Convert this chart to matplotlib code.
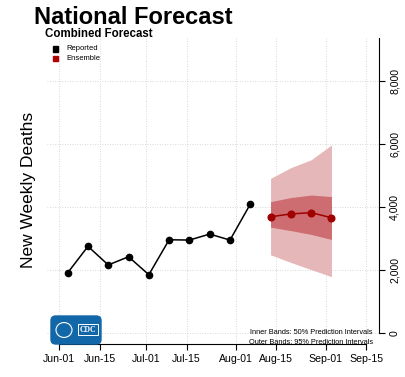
import numpy as np
import matplotlib
matplotlib.use('Agg')
import matplotlib.pyplot as plt
import matplotlib.dates as mdates
from matplotlib.patches import FancyBboxPatch, Rectangle, Circle
from datetime import datetime, timedelta

plt.rcParams['font.family'] = ['Liberation Sans', 'DejaVu Sans']

#reported weekly deaths
reported_dates = ['2022-06-04', '2022-06-11', '2022-06-18', '2022-06-25', '2022-07-02',
                  '2022-07-09', '2022-07-16', '2022-07-23', '2022-07-30', '2022-08-06']
reported = [1910, 2750, 2160, 2420, 1850, 2960, 2950, 3140, 2950, 4090]

#ensemble forecast and prediction intervals
forecast_dates = ['2022-08-13', '2022-08-20', '2022-08-27', '2022-09-03']
ensemble = [3690, 3780, 3820, 3660]
inner_lo = [3360, 3250, 3130, 2970]
inner_hi = [4170, 4300, 4380, 4330]
outer_lo = [2480, 2240, 2010, 1790]
outer_hi = [4910, 5250, 5500, 5970]

tick_dates = ['2022-06-01', '2022-06-15', '2022-07-01', '2022-07-15',
              '2022-08-01', '2022-08-15', '2022-09-01', '2022-09-15']
y_ticks = [0, 2000, 4000, 6000, 8000]

to_dt = lambda lst: [datetime.strptime(d, '%Y-%m-%d') for d in lst]
rd = to_dt(reported_dates)
fd = to_dt(forecast_dates)
td = to_dt(tick_dates)

fig = plt.figure(figsize=(4.05, 3.77), dpi=100)
ax = fig.add_axes([0.1153, 0.0867, 0.8193, 0.812])

pad = timedelta(days=4.24)
ax.set_xlim(td[0] - pad, td[-1] + pad)
ax.set_ylim(-360, 9360)

#grid
for d in td:
    ax.axvline(d, color='#cccccc', lw=0.6, ls=(0, (1, 2)), zorder=0)
for y in y_ticks:
    ax.axhline(y, color='#cccccc', lw=0.6, ls=(0, (1, 2)), zorder=0)

#bands
ax.fill_between(fd, outer_lo, outer_hi, color='#e6b7b8', lw=0, zorder=1)
ax.fill_between(fd, inner_lo, inner_hi, color='#cd6c71', lw=0, zorder=2)

ax.plot(rd, reported, color='black', lw=1.1, marker='o', ms=4.5, zorder=3)
ax.plot(fd, ensemble, color='#a00000', lw=1.1, marker='o', ms=4.8, zorder=3)

#axes styling
ax.spines['top'].set_visible(False)
ax.spines['left'].set_visible(False)
ax.spines['bottom'].set_bounds(mdates.date2num(td[0]), mdates.date2num(td[-1]))
ax.spines['right'].set_bounds(0, 9360)
ax.spines['bottom'].set_position(('data', -360))
ax.yaxis.tick_right()
ax.set_xticks(td)
ax.set_xticklabels([d.strftime('%b-%d') for d in td], fontsize=7.6)
ax.set_yticks(y_ticks)
ax.set_yticklabels([f'{y:,}' for y in y_ticks], fontsize=7.6, rotation=90, va='center')
ax.tick_params(axis='both', length=4, width=0.8, direction='out', pad=3)
ax.tick_params(axis='y', pad=4)

#titles and legend
fig.text(34 / 405, 1 - 18 / 377, 'National Forecast', fontsize=17, fontweight='bold', va='center')
fig.text(45 / 405, 1 - 34 / 377, 'Combined Forecast', fontsize=8.3, fontweight='bold', va='center')
fig.patches.append(Rectangle((53 / 405, 1 - 51.5 / 377), 5 / 405, 5 / 377,
                             transform=fig.transFigure, color='black'))
fig.patches.append(Rectangle((53 / 405, 1 - 61 / 377), 5 / 405, 5 / 377,
                             transform=fig.transFigure, color='#b00000'))
fig.text(66 / 405, 1 - 49 / 377, 'Reported', fontsize=5.5, va='center')
fig.text(66 / 405, 1 - 58.5 / 377, 'Ensemble', fontsize=5.5, va='center')

fig.text(29 / 405, 1 - 190 / 377, 'New Weekly Deaths', fontsize=12.5, rotation=90,
         va='center', ha='center')

fig.text(373 / 405, 1 - 332.5 / 377, 'Inner Bands: 50% Prediction Intervals',
         fontsize=5.3, ha='right', va='center')
fig.text(373 / 405, 1 - 342 / 377, 'Outer Bands: 95% Prediction Intervals',
         fontsize=5.3, ha='right', va='center')

#CDC logo
logo = FancyBboxPatch((51 / 405, 1 - 344 / 377), 50 / 405, 28 / 377,
                      boxstyle='round,pad=0,rounding_size=0.012',
                      transform=fig.transFigure, color='#1167a8')
fig.patches.append(logo)
fig.patches.append(Circle((64 / 405, 1 - 330 / 377), 8 / 405, transform=fig.transFigure,
                          fill=False, ec='white', lw=0.8))
fig.patches.append(Rectangle((78 / 405, 1 - 335 / 377), 20 / 405, 11 / 377,
                             transform=fig.transFigure, fill=False, ec='white', lw=0.7))
fig.text(88 / 405, 1 - 329.5 / 377, 'CDC', fontsize=5.5, fontweight='bold', color='white',
         ha='center', va='center', family='Liberation Serif')

fig.savefig('out.png', dpi=100)
